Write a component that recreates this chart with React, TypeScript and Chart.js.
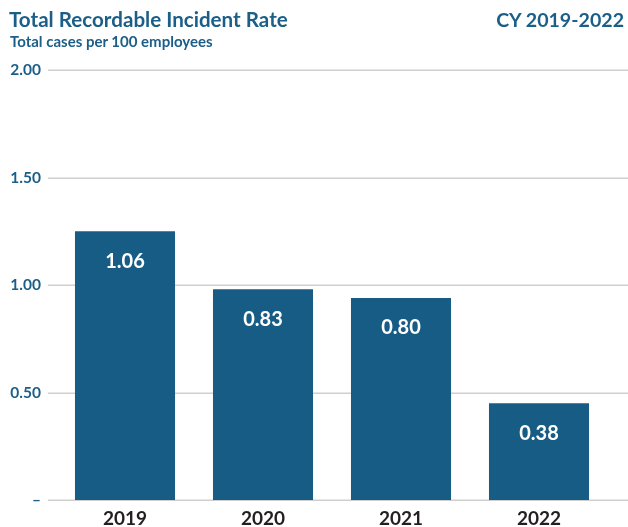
import React, { useEffect, useRef } from "react";
import { Chart, registerables } from "chart.js";

Chart.register(...registerables);

const categories = ["2019", "2020", "2021", "2022"];
const barValues = [1.25, 0.98, 0.94, 0.45];
const valueLabels = ["1.06", "0.83", "0.80", "0.38"];
const yTickValues = [0, 0.5, 1, 1.5, 2];

const titleText = "Total Recordable Incident Rate";
const subtitleText = "Total cases per 100 employees";
const periodText = "CY 2019-2022";

const BLUE = "#165c85";
const TEXT_BLUE = "#1b5f88";
const GRID = "#cfcfcf";
const FONT = "Lato, 'Open Sans', sans-serif";

const gridPlugin = {
  id: "customGrid",
  beforeDatasetsDraw(chart: any) {
    const { ctx } = chart;
    const y = chart.scales.y;
    ctx.save();
    ctx.strokeStyle = GRID;
    ctx.lineWidth = 1.5;
    yTickValues.forEach((v) => {
      const py = Math.round(y.getPixelForValue(v)) + 0.25;
      ctx.beginPath();
      ctx.moveTo(48, py);
      ctx.lineTo(chart.width, py);
      ctx.stroke();
    });
    ctx.restore();
  },
};

const labelPlugin = {
  id: "barLabels",
  afterDatasetsDraw(chart: any) {
    const { ctx } = chart;
    const meta = chart.getDatasetMeta(0);
    ctx.save();
    ctx.fillStyle = "#ffffff";
    ctx.font = `bold 20px ${FONT}`;
    ctx.textAlign = "center";
    ctx.textBaseline = "middle";
    meta.data.forEach((bar: any, i: number) => {
      ctx.fillText(valueLabels[i], bar.x, bar.y + 30);
    });
    ctx.restore();
  },
};

export default function App() {
  const canvasRef = useRef<HTMLCanvasElement | null>(null);

  useEffect(() => {
    if (!canvasRef.current) return;
    const chart = new Chart(canvasRef.current, {
      type: "bar",
      data: {
        labels: categories,
        datasets: [
          {
            data: barValues,
            backgroundColor: BLUE,
            borderWidth: 0,
            categoryPercentage: 1,
            barPercentage: 0.725,
          },
        ],
      },
      options: {
        animation: false,
        responsive: true,
        maintainAspectRatio: false,
        layout: { padding: { top: 70, right: 20, left: 0, bottom: 0 } },
        plugins: {
          legend: { display: false },
          tooltip: { enabled: false },
          title: { display: false },
        },
        scales: {
          x: {
            grid: { display: false, drawTicks: false },
            border: { display: false },
            ticks: {
              color: "#231f20",
              font: { family: FONT, size: 19, weight: "bold" },
              padding: 7,
            },
            afterFit(scale: any) {
              scale.height = 27;
            },
          },
          y: {
            min: 0,
            max: 2,
            afterBuildTicks(scale: any) {
              scale.ticks = yTickValues.map((v) => ({ value: v }));
            },
            grid: { display: false, drawTicks: false },
            border: { display: false },
            ticks: {
              color: TEXT_BLUE,
              font: { family: FONT, size: 15.5, weight: "bold" },
              padding: 15,
              callback: (v: any) => (Number(v) === 0 ? "–" : Number(v).toFixed(2)),
            },
            afterFit(scale: any) {
              scale.width = 56;
            },
          },
        },
      },
      plugins: [gridPlugin, labelPlugin],
    });
    return () => chart.destroy();
  }, []);

  const textBase: React.CSSProperties = {
    position: "absolute",
    fontFamily: FONT,
    fontWeight: 700,
    color: TEXT_BLUE,
    whiteSpace: "nowrap",
    lineHeight: "1",
    margin: 0,
  };

  return (
    <div style={{ position: "absolute", left: 0, top: 0, width: 628, height: 527, background: "#fff" }}>
      <canvas ref={canvasRef} style={{ position: "absolute", left: 0, top: 0, width: 628, height: 527 }} />
      <div style={{ ...textBase, left: 9, top: 9, fontSize: 20.6 }}>{titleText}</div>
      <div style={{ ...textBase, left: 10, top: 34, fontSize: 15 }}>{subtitleText}</div>
      <div style={{ ...textBase, right: 4, top: 10, fontSize: 19.6 }}>{periodText}</div>
    </div>
  );
}
